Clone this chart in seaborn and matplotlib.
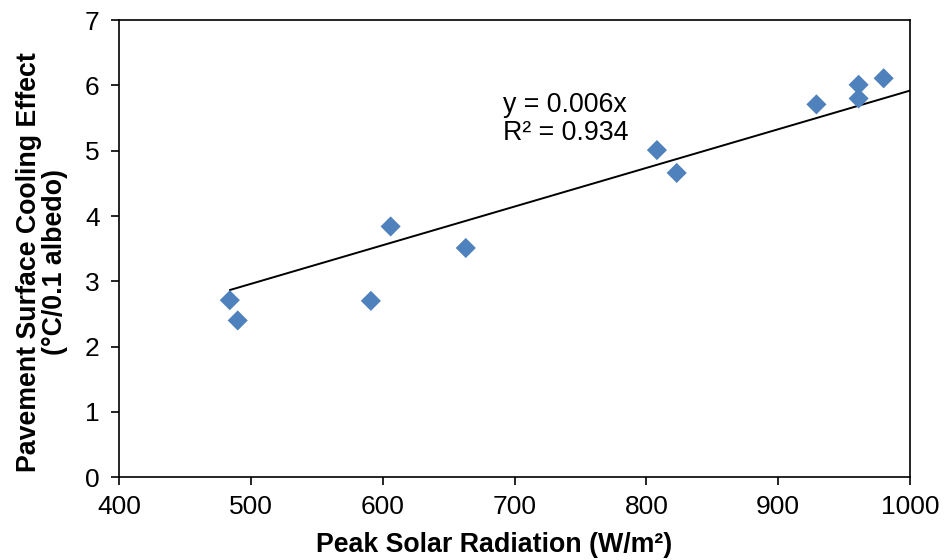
import numpy as np
import pandas as pd
import seaborn as sns
import matplotlib.pyplot as plt

# data
radiation = [484, 490, 591, 606, 663, 808, 823, 929, 961, 961, 980]
cooling = [2.71, 2.40, 2.70, 3.84, 3.51, 5.01, 4.66, 5.71, 6.01, 5.80, 6.11]
eq_text = "y = 0.006x\nR² = 0.934"

df = pd.DataFrame({'Radiation': radiation, 'Cooling': cooling})

sns.set_style('ticks')
plt.rcParams['font.family'] = ['Liberation Sans', 'DejaVu Sans']
plt.rcParams['text.color'] = 'black'
plt.rcParams['axes.labelcolor'] = 'black'
plt.rcParams['xtick.color'] = 'black'
plt.rcParams['ytick.color'] = 'black'

fig = plt.figure(figsize=(9.45, 5.6), dpi=100)
ax = fig.add_axes([0.126, 0.148, 0.837, 0.816])

sns.scatterplot(data=df, x='Radiation', y='Cooling', marker='D', s=105,
                color='#4F81BD', edgecolor='none', ax=ax, zorder=3)

# linear trendline through the origin
x = np.array(radiation, dtype=float)
y = np.array(cooling)
slope = (x * y).sum() / (x * x).sum()
xs = np.array([x.min(), 1000])
ax.plot(xs, slope * xs, color='black', lw=1.4, zorder=2)

ax.text(691, 5.9, eq_text, fontsize=19.3, va='top', ha='left', linespacing=1.12)

ax.set_xlim(400, 1000)
ax.set_ylim(0, 7)
ax.set_xticks(range(400, 1001, 100))
ax.set_yticks(range(0, 8))
ax.tick_params(labelsize=19, direction='out', length=6, width=1.2, color='black')
ax.tick_params(axis='y', pad=8)
ax.tick_params(axis='x', pad=7)
for sp in ax.spines.values():
    sp.set_visible(True)
    sp.set_color('black')
    sp.set_linewidth(1.2)

ax.set_xlabel('Peak Solar Radiation (W/m²)', fontsize=19.3, fontweight='bold')
ax.set_ylabel('Pavement Surface Cooling Effect\n(°C/0.1 albedo)', fontsize=19.3,
              fontweight='bold', linespacing=1.0)
ax.xaxis.set_label_coords(0.474, -0.149)
ax.xaxis.label.set_va('center')
ax.yaxis.set_label_coords(-0.097, 0.47)
ax.yaxis.label.set_va('center')

fig.savefig('out.png', dpi=100)
